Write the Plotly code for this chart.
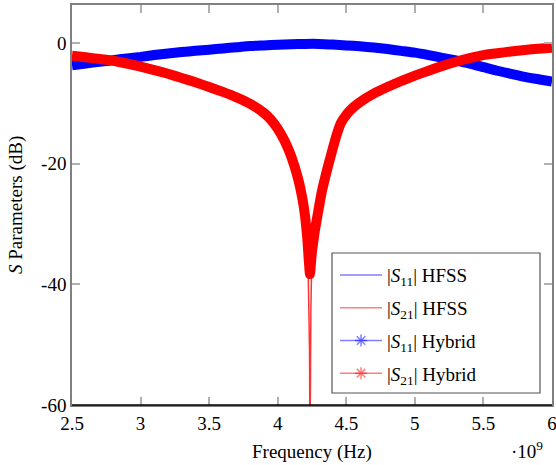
import plotly.graph_objects as go

# Frequencies in GHz (axis scaled by 10^9)
freq_s11 = [2.5, 2.6, 2.7, 2.8, 2.9, 3.0, 3.1, 3.2, 3.3, 3.4, 3.5, 3.6, 3.7, 3.8, 3.9,
            4.0, 4.1, 4.2, 4.3, 4.4, 4.5, 4.6, 4.7, 4.8, 4.9, 5.0, 5.1, 5.2, 5.3,
            5.4, 5.5, 5.6, 5.7, 5.8, 5.9, 6.0]
s11_hybrid = [-3.7, -3.4, -3.1, -2.85, -2.55, -2.3, -2.0, -1.75, -1.5, -1.3, -1.1, -0.9,
              -0.7, -0.5, -0.4, -0.3, -0.2, -0.15, -0.15, -0.25, -0.4, -0.55, -0.75, -1.0,
              -1.3, -1.6, -2.0, -2.45, -2.9, -3.4, -4.0, -4.6, -5.1, -5.6, -6.0, -6.4]
s11_hfss = list(s11_hybrid)

freq_s21_hybrid = [2.5, 2.6, 2.7, 2.8, 2.9, 3.0, 3.1, 3.2, 3.3, 3.4, 3.5, 3.6, 3.7, 3.8,
                   3.9, 3.95, 4.0, 4.05, 4.1, 4.15, 4.18, 4.2, 4.215, 4.235, 4.25, 4.27,
                   4.29, 4.32, 4.36, 4.4, 4.43, 4.46, 4.5, 4.55, 4.6, 4.7, 4.8, 4.9,
                   5.0, 5.1, 5.2, 5.3, 5.4, 5.5, 5.6, 5.7, 5.8, 5.9, 6.0]
s21_hybrid = [-2.1, -2.35, -2.65, -2.95, -3.4, -3.9, -4.5, -5.1, -5.8, -6.5, -7.3, -8.1,
              -9.0, -10.1, -11.6, -12.7, -14.2, -16.2, -18.9, -22.6, -25.8, -28.8, -32.2,
              -38.3, -34.5, -31.2, -28.6, -24.8, -21.0, -17.6, -15.2, -13.3, -11.9,
              -10.7, -9.8, -8.4, -7.3, -6.3, -5.4, -4.6, -3.8, -3.1, -2.5, -2.0, -1.7,
              -1.4, -1.15, -0.95, -0.8]

freq_s21_hfss = [2.5, 2.6, 2.7, 2.8, 2.9, 3.0, 3.1, 3.2, 3.3, 3.4, 3.5, 3.6, 3.7, 3.8,
                 3.9, 3.95, 4.0, 4.05, 4.1, 4.15, 4.18, 4.2, 4.215, 4.223, 4.228, 4.232,
                 4.235, 4.238, 4.242, 4.246, 4.252, 4.27, 4.29, 4.32, 4.36, 4.4, 4.43,
                 4.46, 4.5, 4.55, 4.6, 4.7, 4.8, 4.9, 5.0, 5.1, 5.2, 5.3, 5.4, 5.5, 5.6,
                 5.7, 5.8, 5.9, 6.0]
s21_hfss = [-2.1, -2.35, -2.65, -2.95, -3.4, -3.9, -4.5, -5.1, -5.8, -6.5, -7.3, -8.1,
            -9.0, -10.1, -11.6, -12.7, -14.2, -16.2, -18.9, -22.6, -25.8, -28.8, -32.2,
            -39.0, -44.0, -51.0, -68.0, -52.0, -44.0, -39.0, -35.5, -31.2, -28.6, -24.8,
            -21.0, -17.6, -15.2, -13.3, -11.9, -10.7, -9.8, -8.4, -7.3, -6.3, -5.4,
            -4.6, -3.8, -3.1, -2.5, -2.0, -1.7, -1.4, -1.15, -0.95, -0.8]

x_tick_vals = [2.5, 3, 3.5, 4, 4.5, 5, 5.5, 6]
x_tick_text = ["2.5", "3", "3.5", "4", "4.5", "5", "5.5", "6"]
y_tick_vals = [0, -20, -40, -60]
y_tick_text = ["0", "-20", "-40", "-60"]

legend_names = ["|<i>S</i><sub>11</sub>| HFSS", "|<i>S</i><sub>21</sub>| HFSS",
                "|<i>S</i><sub>11</sub>| Hybrid", "|<i>S</i><sub>21</sub>| Hybrid"]

BLUE = "rgb(0,0,255)"
RED = "rgb(255,0,0)"
BLUE_T = "rgba(0,0,255,0.5)"
RED_T = "rgba(255,0,0,0.5)"
RED_LINE = "rgba(255,0,0,0.8)"
FONT = "Liberation Serif"
FS = 19

fig = go.Figure()

# HFSS thin lines
fig.add_trace(go.Scatter(x=freq_s11, y=s11_hfss, mode="lines",
                         line=dict(color=BLUE_T, width=1), showlegend=False))
fig.add_trace(go.Scatter(x=freq_s21_hfss, y=s21_hfss, mode="lines",
                         line=dict(color=RED_LINE, width=1.5), showlegend=False))
# Hybrid dense-marker bands
fig.add_trace(go.Scatter(x=freq_s11, y=s11_hybrid, mode="lines",
                         line=dict(color=BLUE, width=10, shape="spline", smoothing=0.6),
                         showlegend=False))
fig.add_trace(go.Scatter(x=freq_s21_hybrid, y=s21_hybrid, mode="lines",
                         line=dict(color=RED, width=10, shape="spline", smoothing=0.35),
                         showlegend=False))

# Legend entries
legend_styles = [
    dict(mode="lines", line=dict(color=BLUE_T, width=1.5)),
    dict(mode="lines", line=dict(color=RED_T, width=1.5)),
    dict(mode="lines+markers", line=dict(color=BLUE_T, width=1.5),
         marker=dict(symbol="asterisk-open", size=10, line=dict(color=BLUE, width=1.5))),
    dict(mode="lines+markers", line=dict(color=RED_T, width=1.5),
         marker=dict(symbol="asterisk-open", size=10, line=dict(color=RED, width=1.5))),
]
for i, (name, st) in enumerate(zip(legend_names, legend_styles)):
    fig.add_trace(go.Scatter(x=[None], y=[None], name=name, legendgroup=f"g{i}",
                             showlegend=True, **st))

axis_common = dict(showline=True, linecolor="#808080", linewidth=1.5, mirror="allticks",
                   ticks="inside", ticklen=8, tickcolor="#b0b0b0", tickwidth=1.5,
                   showgrid=False, zeroline=False, automargin=False,
                   ticklabeloverflow="allow",
                   tickfont=dict(family=FONT, size=FS, color="black"))

fig.update_layout(
    width=556, height=465,
    margin=dict(l=72, r=4, t=5, b=60),
    paper_bgcolor="white", plot_bgcolor="white",
    font=dict(family=FONT, size=FS, color="black"),
    xaxis=dict(range=[2.5, 6], tickvals=x_tick_vals, ticktext=x_tick_text, **axis_common),
    yaxis=dict(range=[-60, 6.3], tickvals=y_tick_vals, ticktext=y_tick_text, **axis_common),
    legend=dict(x=0.548, y=0.372, xanchor="left", yanchor="top",
                borderwidth=0, bgcolor="rgba(0,0,0,0)",
                traceorder="grouped", tracegroupgap=5, itemwidth=42,
                font=dict(family=FONT, size=FS, color="black")),
    shapes=[
        dict(type="line", xref="paper", yref="paper", x0=0, x1=1, y0=0, y1=0,
             line=dict(color="black", width=1.5)),
        dict(type="rect", xref="paper", yref="paper", x0=0.5417, x1=0.975,
             y0=0.03, y1=0.38, fillcolor="white", line=dict(color="#555555", width=1.2)),
    ],
    annotations=[
        dict(text="Frequency (Hz)", xref="paper", yref="paper", x=0.5, y=-0.1175,
             xanchor="center", yanchor="middle",
             showarrow=False, font=dict(family=FONT, size=FS)),
        dict(text="·10<sup>9</sup>", xref="paper", yref="paper", x=0.948, y=-0.112,
             xanchor="center", yanchor="middle",
             showarrow=False, font=dict(family=FONT, size=FS)),
        dict(text="<i>S</i> Parameters (dB)", xref="paper", yref="paper", x=-0.1167, y=0.5,
             xanchor="center", yanchor="middle",
             textangle=-90, showarrow=False, font=dict(family=FONT, size=FS)),
    ],
)

fig.write_html("out.html", config={"displayModeBar": False},
               post_script="document.body.style.margin='0';")
